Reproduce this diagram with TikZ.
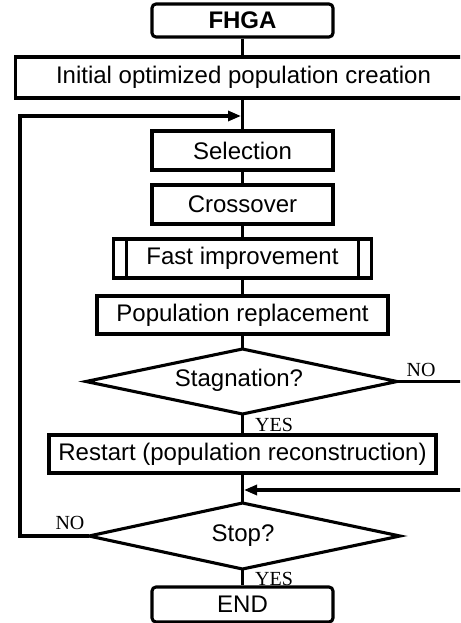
\documentclass[tikz,border=0pt]{standalone}
\usepackage{fontspec}
\setmainfont{Liberation Sans}
\newfontfamily\lblfont{Liberation Serif}
\usetikzlibrary{arrows.meta}
\begin{document}
\begin{tikzpicture}[x=1pt,y=-1pt,
  lw/.style={line width=3.1pt},
  box/.style={draw,lw,rectangle,inner sep=0pt,font=\fontsize{24pt}{28pt}\selectfont},
  term/.style={box,rounded corners=4pt},
  txt/.style={inner sep=0pt,font=\fontsize{24pt}{28pt}\selectfont},
  conn/.style={lw},
  arr/.style={lw,-{Triangle[length=13pt,width=10pt]}},
  lbl/.style={font=\lblfont\fontsize{20pt}{22pt}\selectfont,inner sep=0pt}]
\useasboundingbox (0,0) rectangle (460,623);
\clip (0,0) rectangle (460,623);
\def\cx{242.5}
\node[term,minimum width=181pt,minimum height=33pt,font=\bfseries\fontsize{24pt}{28pt}\selectfont] (fhga) at (\cx,20.5) {FHGA};
\node[box,minimum width=454pt,minimum height=41pt] (init) at (\cx,77.5) {};
\node[txt] (inittxt) at (243.5,77.5) {Initial optimized population creation};
\node[box,minimum width=181pt,minimum height=39pt] (sel) at (\cx,150.5) {Selection};
\node[box,minimum width=181pt,minimum height=39pt] (cross) at (\cx,204.5) {Crossover};
\node[box,minimum width=258pt,minimum height=39pt] (fast) at (\cx,258.5) {Fast improvement};
\draw[lw] ([xshift=14.5pt]fast.north west) -- ([xshift=14.5pt]fast.south west);
\draw[lw] ([xshift=-14.5pt]fast.north east) -- ([xshift=-14.5pt]fast.south east);
\node[box,minimum width=291pt,minimum height=38pt] (rep) at (\cx,315) {Population replacement};
% Stagnation diamond
\coordinate (stagN) at (\cx,349);
\coordinate (stagS) at (\cx,414);
\coordinate (stagW) at (86,381.5);
\coordinate (stagE) at (397,381.5);
\draw[lw,line join=miter] (stagN) -- (stagE) -- (stagS) -- (stagW) -- cycle;
\node[txt] (stag) at (239,380) {Stagnation?};
\node[box,minimum width=387pt,minimum height=38pt] (rest) at (\cx,454) {Restart (population reconstruction)};
% Stop diamond
\coordinate (stopN) at (\cx,503);
\coordinate (stopS) at (\cx,569);
\coordinate (stopW) at (89,536);
\coordinate (stopE) at (400,536);
\draw[lw,line join=miter] (stopN) -- (stopE) -- (stopS) -- (stopW) -- cycle;
\node[txt] (stop) at (243,536) {Stop?};
\node[term,minimum width=181pt,minimum height=35pt] (endn) at (\cx,604.5) {END};
\coordinate (j1) at (\cx,116);
\coordinate (j2) at (\cx,490);
\coordinate (l1) at (20,536);
\coordinate (r1) at (470,381.5);
\coordinate (r2) at (470,490);
\draw[conn] (fhga.south) -- (init.north);
\draw[conn] (init.south) -- (sel.north);
\draw[conn] (sel.south) -- (cross.north);
\draw[conn] (cross.south) -- (fast.north);
\draw[conn] (fast.south) -- (rep.north);
\draw[conn] (rep.south) -- (stagN);
\draw[conn] (stagS) -- (rest.north);
\draw[conn] (rest.south) -- (stopN);
\draw[conn] (stopS) -- (endn.north);
\draw[conn] (stagE) -- (r1);
\draw[arr,shorten >=1.5pt] (r2) -- (j2);
\draw[arr,shorten >=1.5pt] (stopW) -- (l1) |- (j1);
\node[lbl,anchor=south] (no1) at (421,377) {NO};
\node[lbl,anchor=south west] (yes1) at (255,432) {YES};
\node[lbl,anchor=south] (no2) at (70,530) {NO};
\node[lbl,anchor=south west] (yes2) at (255,586) {YES};
\end{tikzpicture}
\end{document}
